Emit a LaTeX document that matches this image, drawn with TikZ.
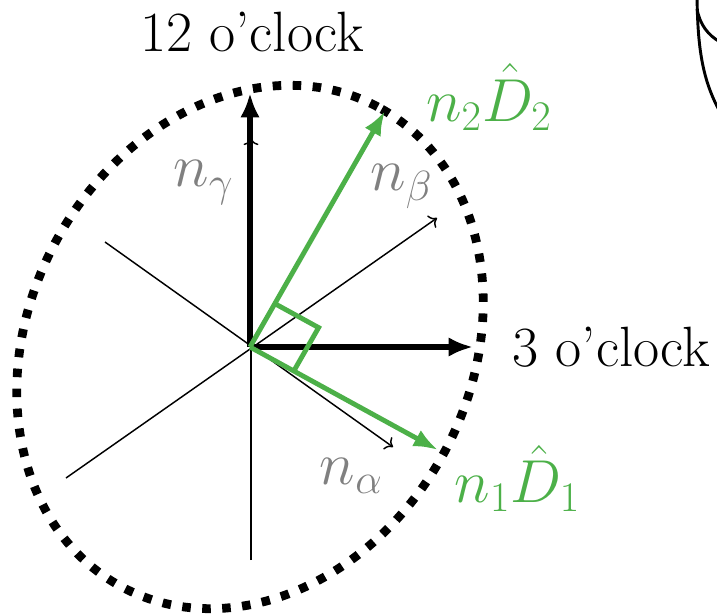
\documentclass[tikz,border=0pt]{standalone}
\usepackage{xcolor}
\usetikzlibrary{arrows.meta}
\definecolor{vgreen}{RGB}{76,176,72}
\tikzset{
  thinax/.style={line width=0.6pt,->},
  clockax/.style={line width=2.7pt,-{Latex[length=10pt,width=8pt]}},
  dvec/.style={vgreen,line width=2pt,-{Latex[length=10pt,width=7.5pt]}},
  dots/.style={line width=3.6pt,dash pattern=on 3.5pt off 4.7pt},
  lab/.style={font=\fontsize{23.3}{28}\selectfont,inner sep=0pt},
}
\begin{document}
\begin{tikzpicture}[x=0.41pt,y=0.41pt]
  \useasboundingbox (-250,-268) rectangle (467,347);
  \coordinate (O) at (0,0);
  % thin n axes
  \coordinate (ga0) at (1,-213);   \coordinate (ga1) at (1,209);
  \coordinate (al0) at (-145,105); \coordinate (al1) at (143,-100);
  \coordinate (be0) at (-184,-131);\coordinate (be1) at (187,129);
  \draw[thinax] (ga0) -- (ga1);
  \draw[thinax] (al0) -- (al1);
  \draw[thinax] (be0) -- (be1);
  % dotted ellipse
  \draw[dots,rotate=62] (O) ellipse [x radius=272,y radius=221];
  % clock directions
  \coordinate (twelve) at (0,254);
  \coordinate (three) at (223,0);
  \draw[clockax] (O) -- (twelve);
  \draw[clockax] (O) -- (three);
  % D vectors
  \coordinate (D2) at (135,236);
  \coordinate (D1) at (188,-103);
  \draw[dvec] (O) -- (D2);
  \draw[dvec] (O) -- (D1);
  \draw[vgreen,line width=2pt] (24.8,43.4) -- (68.6,19.4) -- (43.8,-24);
  % labels
  \node[lab] (lbltwelve) at (2,315) {12 o'clock};
  \node[lab,anchor=west] (lblthree) at (262,0) {3 o'clock};
  \node[lab,gray] (lblga) at (-46.5,164.5) {$n_\gamma$};
  \node[lab,gray] (lblbe) at (151.5,160.5) {$n_\beta$};
  \node[lab,gray] (lblal) at (101.5,-129) {$n_\alpha$};
  \node[lab,vgreen] (lblDtwo) at (239,250) {$n_2\hat{D}_2$};
  \node[lab,vgreen] (lblDone) at (267.5,-131.5) {$n_1\hat{D}_1$};
  % edge of the next figure
  \begin{scope}
    \clip (-250,-268) rectangle (467,347);
    \draw[line width=1.2pt] (447,360) .. controls (447,300) and (452,268) .. (470,235);
    \draw[line width=1.2pt] (447,338) .. controls (450,322) and (458,312) .. (470,305);
  \end{scope}
\end{tikzpicture}
\end{document}
